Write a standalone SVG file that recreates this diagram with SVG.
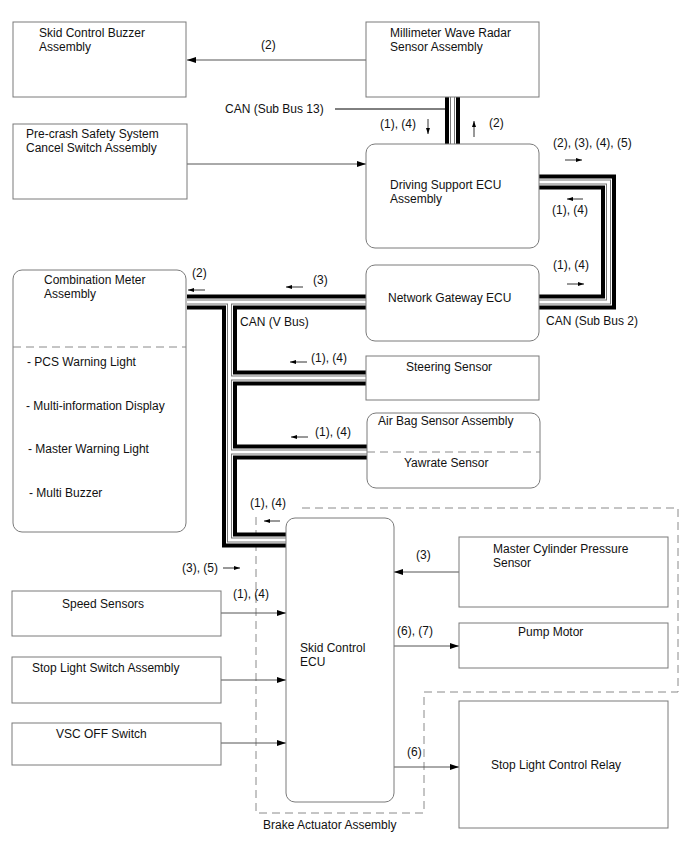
<svg xmlns="http://www.w3.org/2000/svg" xmlns:xlink="http://www.w3.org/1999/xlink" width="688" height="852" viewBox="0 0 688 852">
<style>
text{font-family:"Liberation Sans",Arial,sans-serif;font-size:12px;fill:#111}
.box{fill:#fff;stroke:#7a7a7a;stroke-width:1}
.div{stroke:#8a8a8a;stroke-width:1;stroke-dasharray:8 5;fill:none}
.wire{stroke:#555;stroke-width:1;fill:none}
.arr{marker-end:url(#ah)}
.sarr{stroke:#333;stroke-width:1;fill:none;marker-end:url(#sh)}
.bus{fill:none;stroke-linejoin:miter;stroke-linecap:butt}
.b1{stroke:#000;stroke-width:15}
.b2{stroke:#fff;stroke-width:7}
.b3{stroke:#777;stroke-width:5}
.b4{stroke:#fff;stroke-width:3}
.zone{fill:none;stroke:#8a8a8a;stroke-width:1;stroke-dasharray:8 5}
</style>
<defs>
<marker id="ah" markerWidth="9" markerHeight="6" refX="9" refY="3" orient="auto" markerUnits="userSpaceOnUse"><path d="M0,0 L9,3 L0,6 z" fill="#000"/></marker>
<marker id="sh" markerWidth="6" markerHeight="4" refX="6" refY="2" orient="auto" markerUnits="userSpaceOnUse"><path d="M0,0 L6,2 L0,4 z" fill="#000"/></marker>
<g id="buspaths" class="bus">
<path d="M452.5,97 V144"/>
<path d="M539,182 H608.5 V302 H539"/>
<path d="M187,302 H366"/>
<path d="M229.5,302 V540 H286"/>
<path d="M229.5,378 H366"/>
<path d="M229.5,452 H367"/>
</g>
</defs>
<rect width="688" height="852" fill="#fff"/>

<g id="brake-actuator-zone">
<path class="zone" d="M302,508 H678 V692 H424 V813 H256 V512"/>
<text x="263" y="829">Brake Actuator Assembly</text>
</g>

<g id="connectors">
<use xlink:href="#buspaths" class="b1"/>
<use xlink:href="#buspaths" class="b2"/>
<use xlink:href="#buspaths" class="b3"/>
<use xlink:href="#buspaths" class="b4"/>
<line class="wire" x1="335" y1="109" x2="446" y2="109" style="stroke:#000"/>
<text x="225" y="113">CAN (Sub Bus 13)</text>
<text x="240" y="326">CAN (V Bus)</text>
<text x="546" y="325">CAN (Sub Bus 2)</text>
<line class="wire arr" x1="366" y1="60" x2="187" y2="60"/>
<text x="261" y="49">(2)</text>
<line class="wire arr" x1="187" y1="164" x2="366" y2="164"/>
<line class="sarr" x1="428" y1="119" x2="428" y2="134"/>
<text x="380" y="128">(1), (4)</text>
<line class="sarr" x1="474" y1="137" x2="474" y2="121"/>
<text x="489" y="127">(2)</text>
<text x="553" y="147">(2), (3), (4), (5)</text>
<line class="sarr" x1="565" y1="160" x2="582" y2="160"/>
<line class="sarr" x1="583" y1="199" x2="567" y2="199"/>
<text x="552" y="214">(1), (4)</text>
<text x="553" y="269">(1), (4)</text>
<line class="sarr" x1="567" y1="284" x2="584" y2="284"/>
<text x="192" y="277">(2)</text>
<line class="sarr" x1="205" y1="290" x2="188" y2="290"/>
<text x="313" y="284">(3)</text>
<line class="sarr" x1="303" y1="287" x2="286" y2="287"/>
<text x="311" y="362">(1), (4)</text>
<line class="sarr" x1="307" y1="362" x2="290" y2="362"/>
<text x="315" y="436">(1), (4)</text>
<line class="sarr" x1="308" y1="437" x2="291" y2="437"/>
<text x="250" y="507">(1), (4)</text>
<line class="sarr" x1="280" y1="521" x2="264" y2="521"/>
<text x="182" y="572">(3), (5)</text>
<line class="sarr" x1="223" y1="568" x2="240" y2="568"/>
<text x="233" y="598">(1), (4)</text>
<line class="wire arr" x1="221" y1="613" x2="286" y2="613"/>
<line class="wire arr" x1="221" y1="680" x2="286" y2="680"/>
<line class="wire arr" x1="221" y1="743" x2="286" y2="743"/>
<line class="wire arr" x1="459" y1="572" x2="394" y2="572"/>
<text x="416" y="559">(3)</text>
<line class="wire arr" x1="394" y1="646" x2="459" y2="646"/>
<text x="397" y="635">(6), (7)</text>
<line class="wire arr" x1="394" y1="767" x2="459" y2="767"/>
<text x="407" y="756">(6)</text>
</g>

<g id="skid-control-buzzer">
<rect class="box" x="13" y="22" width="173" height="75"/>
<text x="39" y="37">Skid Control Buzzer</text>
<text x="39" y="51">Assembly</text>
</g>
<g id="millimeter-wave-radar">
<rect class="box" x="366" y="22" width="173" height="75"/>
<text x="390" y="37">Millimeter Wave Radar</text>
<text x="390" y="51">Sensor Assembly</text>
</g>
<g id="pcs-cancel-switch">
<rect class="box" x="13" y="124" width="174" height="75"/>
<text x="26" y="138">Pre-crash Safety System</text>
<text x="26" y="152">Cancel Switch Assembly</text>
</g>
<g id="driving-support-ecu">
<rect class="box" x="366" y="144" width="173" height="104" rx="9"/>
<text x="390" y="189">Driving Support ECU</text>
<text x="390" y="203">Assembly</text>
</g>
<g id="combination-meter">
<rect class="box" x="13" y="270" width="173" height="262" rx="9"/>
<text x="44" y="284">Combination Meter</text>
<text x="44" y="298">Assembly</text>
<line class="div" x1="13" y1="347" x2="186" y2="347"/>
<text x="27" y="366">- PCS Warning Light</text>
<text x="26" y="410">- Multi-information Display</text>
<text x="28" y="453">- Master Warning Light</text>
<text x="29" y="497">- Multi Buzzer</text>
</g>
<g id="network-gateway-ecu">
<rect class="box" x="366" y="265" width="173" height="76" rx="9"/>
<text x="388" y="302">Network Gateway ECU</text>
</g>
<g id="steering-sensor">
<rect class="box" x="366" y="356" width="173" height="44"/>
<text x="406" y="371">Steering Sensor</text>
</g>
<g id="airbag-sensor">
<rect class="box" x="367" y="413" width="173" height="75" rx="9"/>
<text x="378" y="425">Air Bag Sensor Assembly</text>
<line class="div" x1="367" y1="452" x2="540" y2="452"/>
<text x="404" y="467">Yawrate Sensor</text>
</g>
<g id="skid-control-ecu">
<rect class="box" x="286" y="518" width="108" height="284" rx="9"/>
<text x="300" y="652">Skid Control</text>
<text x="300" y="666">ECU</text>
</g>
<g id="master-cylinder-sensor">
<rect class="box" x="459" y="537" width="209" height="70"/>
<text x="493" y="553">Master Cylinder Pressure</text>
<text x="493" y="567">Sensor</text>
</g>
<g id="pump-motor">
<rect class="box" x="459" y="623" width="209" height="45"/>
<text x="518" y="636">Pump Motor</text>
</g>
<g id="stop-light-control-relay">
<rect class="box" x="459" y="701" width="209" height="127"/>
<text x="491" y="769">Stop Light Control Relay</text>
</g>
<g id="speed-sensors">
<rect class="box" x="12" y="591" width="209" height="45"/>
<text x="62" y="608">Speed Sensors</text>
</g>
<g id="stop-light-switch">
<rect class="box" x="12" y="657" width="209" height="46"/>
<text x="32" y="672">Stop Light Switch Assembly</text>
</g>
<g id="vsc-off-switch">
<rect class="box" x="12" y="723" width="209" height="42"/>
<text x="56" y="738">VSC OFF Switch</text>
</g>
</svg>
